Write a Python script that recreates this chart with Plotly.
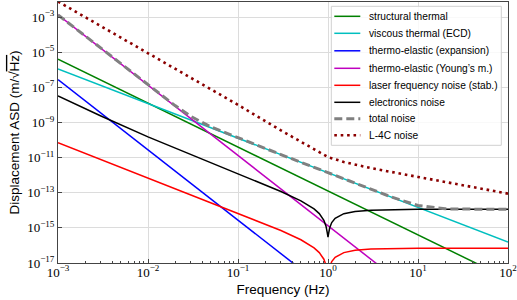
import plotly.graph_objects as go

# ---------------- data ----------------
f_struct = [1e-3, 1e-2, 1e-1, 1, 10, 100]
asd_struct = [4.0e-6, 1.26e-8, 4.0e-11, 1.26e-13, 4.0e-16, 1.26e-18]

f_visc = [1e-3, 1e-2, 1e-1, 1, 10, 100]
asd_visc = [1.1e-6, 1.18e-8, 1.27e-10, 1.37e-12, 1.47e-14, 1.58e-16]

f_te_exp = [1e-3, 1e-2, 1e-1, 1]
asd_te_exp = [2.75e-7, 2.75e-11, 2.75e-15, 2.75e-19]

f_te_young = [1e-3, 1e-2, 1e-1, 1, 10]
asd_te_young = [1.32e-3, 1.32e-7, 1.32e-11, 1.32e-15, 1.32e-19]

f_laser = [1e-3, 1e-2, 1e-1, 0.3, 0.5, 0.7, 0.8, 0.9, 0.95, 0.98, 0.995,
           1.005, 1.02, 1.05, 1.1, 1.2, 1.5, 2, 3, 5, 10, 100]
asd_laser = [7.0e-11, 7.0e-13, 6.9e-15, 7.1e-16, 2.1e-16, 7.3e-17, 3.9e-17,
             1.64e-17, 7.6e-18, 2.9e-18, 7e-19, 7e-19, 2.7e-18, 6.5e-18,
             1.2e-17, 2.1e-17, 3.9e-17, 5.25e-17, 6.2e-17, 6.7e-17, 6.93e-17,
             7.0e-17]

f_elec = [1e-3, 3e-3, 1e-2, 3e-2, 0.1, 0.3, 0.5, 0.7, 0.8, 0.9, 0.95, 0.98,
          1.0, 1.02, 1.05, 1.1, 1.2, 1.5, 2, 3, 5, 10, 100]
asd_elec = [3.25e-8, 2.33e-9, 1.5e-10, 1.42e-11, 1.18e-12, 1.18e-13, 3.47e-14,
            1.2e-14, 6.47e-15, 2.7e-15, 1.24e-15, 5.6e-16, 3.0e-16, 5.4e-16,
            1.1e-15, 2.0e-15, 3.5e-15, 6.4e-15, 8.6e-15, 1.02e-14, 1.1e-14,
            1.14e-14, 1.15e-14]

f_total = [1e-3, 1e-2, 2e-2, 3e-2, 5e-2, 7e-2, 0.1, 0.3, 1, 3, 5, 10, 20, 50, 100]
asd_total = [1.32e-3, 1.33e-7, 9.1e-9, 2.19e-9, 5.55e-10, 2.8e-10, 1.34e-10,
             1.48e-11, 1.38e-12, 1.58e-13, 5.86e-14, 1.86e-14, 1.21e-14,
             1.152e-14, 1.15e-14]

f_l4c = [1e-3, 1e-2, 0.1, 0.3, 0.5, 0.7, 1, 1.5, 2, 3, 10, 100]
asd_l4c = [7.6e-3, 8.7e-6, 1.0e-8, 3.5e-10, 7.9e-11, 2.8e-11, 1.07e-11,
           5.6e-12, 4.0e-12, 2.5e-12, 7.9e-13, 8.9e-14]

series_names = ["structural thermal", "viscous thermal (ECD)",
                "thermo-elastic (expansion)", "thermo-elastic (Young’s m.)",
                "laser frequency noise (stab.)", "electronics noise",
                "total noise", "L-4C noise"]

x_tick_vals = [1e-3, 1e-2, 1e-1, 1, 10, 100]
x_tick_text = ["10<sup>−3</sup>", "10<sup>−2</sup>", "10<sup>−1</sup>",
               "10<sup>0</sup>", "10<sup>1</sup>", "10<sup>2</sup>"]
y_tick_vals = [1e-3, 1e-5, 1e-7, 1e-9, 1e-11, 1e-13, 1e-15, 1e-17]
y_tick_text = ["10<sup>−3</sup>", "10<sup>−5</sup>", "10<sup>−7</sup>",
               "10<sup>−9</sup>", "10<sup>−11</sup>", "10<sup>−13</sup>",
               "10<sup>−15</sup>", "10<sup>−17</sup>"]

# ---------------- styles ----------------
styles = [
    dict(color="#008000", width=1.5),
    dict(color="#00BFBF", width=1.5),
    dict(color="#0000FF", width=1.5),
    dict(color="#BF00BF", width=1.5),
    dict(color="#FF0000", width=1.5),
    dict(color="#000000", width=1.5),
    dict(color="#808080", width=3, dash="8px,4px"),
    dict(color="#8B0000", width=2.6, dash="2.6px,3.8px"),
]
xs = [f_struct, f_visc, f_te_exp, f_te_young, f_laser, f_elec, f_total, f_l4c]
ys = [asd_struct, asd_visc, asd_te_exp, asd_te_young, asd_laser, asd_elec,
      asd_total, asd_l4c]

fig = go.Figure()
for name, fx, fy, ln in zip(series_names, xs, ys, styles):
    fig.add_trace(go.Scatter(x=fx, y=fy, mode="lines", name=name, line=ln,
                             showlegend=False))

# ---------------- hand-laid legend (matplotlib-like, compact) ----------------
PL, PR, PT, PB = 57.7, 507.7, 1.7, 262.7


def px(x):
    return (x - PL) / (PR - PL)


def py(y):
    return (PB - y) / (PB - PT)


shapes = [dict(type="rect", xref="paper", yref="paper",
               x0=px(331), x1=px(501), y0=py(145), y1=py(6),
               fillcolor="rgba(255,255,255,0.82)",
               line=dict(color="#d0d0d0", width=1), layer="above")]
annotations = []
item_y = [16, 33, 50.5, 68, 85, 102, 118.5, 135]
for name, ln, yy in zip(series_names, styles, item_y):
    shapes.append(dict(type="line", xref="paper", yref="paper",
                       x0=px(334), x1=px(360), y0=py(yy), y1=py(yy),
                       line=ln, layer="above"))
    annotations.append(dict(text=name, xref="paper", yref="paper",
                            x=px(367), y=py(yy), xanchor="left",
                            yanchor="middle", showarrow=False,
                            font=dict(family="Liberation Sans", size=10.2,
                                      color="#000")))

minor_x = [m * 10 ** e for e in range(-3, 2) for m in range(2, 10)]

fig.update_layout(
    width=517, height=300,
    margin=dict(l=58, r=9, t=2, b=37),
    plot_bgcolor="white", paper_bgcolor="white",
    font=dict(family="Liberation Sans", color="#000"),
    showlegend=False,
    shapes=shapes, annotations=annotations,
)
fig.update_xaxes(
    type="log", range=[-3, 2],
    tickmode="array", tickvals=x_tick_vals, ticktext=x_tick_text,
    tickfont=dict(family="Liberation Serif", size=13),
    ticklabeloverflow="allow", ticklabelstandoff=-3,
    ticks="inside", ticklen=4, tickcolor="#444",
    showline=True, linecolor="#444", linewidth=1, mirror=True,
    showgrid=True, gridcolor="#dcdcdc", gridwidth=1, zeroline=False,
    minor=dict(tickmode="array", tickvals=minor_x, ticks="inside", ticklen=2,
               tickcolor="#444", showgrid=False),
    title=dict(text="Frequency (Hz)", font=dict(family="Liberation Sans", size=13.5),
               standoff=5),
    automargin=False,
)
fig.update_yaxes(
    type="log", range=[-17, -2.146],
    tickmode="array", tickvals=y_tick_vals, ticktext=y_tick_text,
    tickfont=dict(family="Liberation Serif", size=13),
    ticklabeloverflow="allow",
    ticks="inside", ticklen=4, tickcolor="#444",
    showline=True, linecolor="#444", linewidth=1, mirror=True,
    showgrid=True, gridcolor="#dcdcdc", gridwidth=1, zeroline=False,
    title=dict(text="Displacement ASD (m/√<span style='text-decoration:overline'>Hz</span>)",
               font=dict(family="Liberation Sans", size=13.5), standoff=4),
    automargin=False,
)

fig.write_html(
    "out.html",
    config={"displayModeBar": False},
    post_script="document.body.style.margin='0';document.body.style.padding='0';",
)
